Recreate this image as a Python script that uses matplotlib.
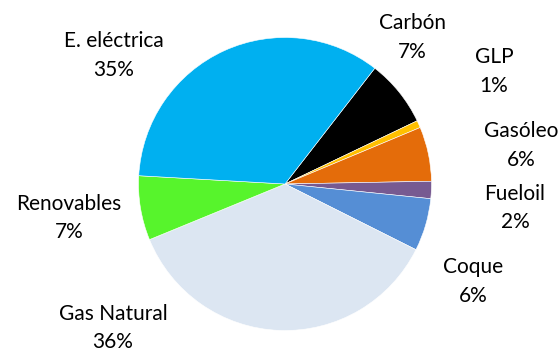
import matplotlib

matplotlib.use("Agg")
import matplotlib.pyplot as plt

# energy mix shares (%), clockwise from the E. electrica / Carbon boundary
fuentes = ["Carbón", "GLP", "Gasóleo", "Fueloil", "Coque",
           "Gas Natural", "Renovables", "E. eléctrica"]
cuotas = [7.4, 0.8, 6.0, 1.9, 5.8, 36.4, 7.1, 34.6]
colores = ["#000000", "#FFC000", "#E46C0A", "#775A91", "#558ED5",
           "#DCE6F2", "#57F42C", "#00B0F0"]

# label anchors in pixels (x centre, baseline of first line), as in the original layout
pos_etiquetas = [(412, 29), (494, 63), (521, 137), (515, 200), (473, 273),
                 (113, 320), (69, 210), (114, 47)]

W, H = 560, 351
fig = plt.figure(figsize=(W / 100, H / 100), dpi=100)

cx, cy, r = 285, 184, 146.5
ax = fig.add_axes([(cx - r) / W, (H - cy - r) / H, 2 * r / W, 2 * r / H])
ax.pie(cuotas, colors=colores, startangle=52.2, counterclock=False,
       wedgeprops=dict(edgecolor="white", linewidth=0.4))
ax.set_xlim(-1, 1)
ax.set_ylim(-1, 1)
ax.set_aspect("equal")
ax.axis("off")

fuente = dict(family=["Lato", "DejaVu Sans"], fontsize=15, color="#000000")
for nombre, valor, (x, y) in zip(fuentes, cuotas, pos_etiquetas):
    fig.text(x / W, 1 - y / H, nombre, ha="center", va="baseline", **fuente)
    fig.text(x / W, 1 - (y + 28.5) / H, f"{round(valor)}%", ha="center", va="baseline", **fuente)

fig.savefig("out.png", dpi=100)
